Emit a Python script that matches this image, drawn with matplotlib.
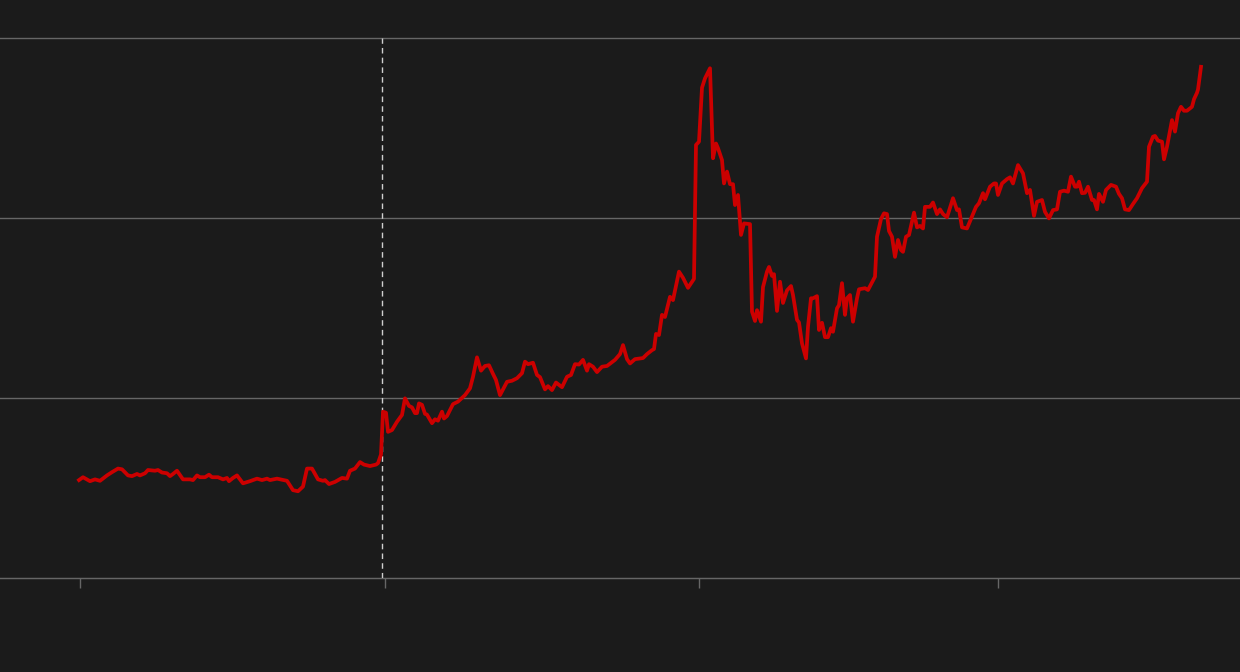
import matplotlib
matplotlib.use('Agg')
import matplotlib.pyplot as plt

# valeurs (x en unites arbitraires, y en unites de grille)
x = [7.9, 8.3, 9.0, 9.5, 10.0, 10.7, 11.2, 11.8, 12.2, 12.8,
     13.2, 13.7, 14.0, 14.5, 14.8, 15.5, 15.8, 16.2, 16.7, 17.0,
     17.3, 17.7, 18.3, 19.0, 19.3, 19.7, 20.0, 20.5, 20.9, 21.2,
     21.8, 22.3, 22.7, 22.9, 23.3, 23.7, 24.3, 25.0, 25.7, 26.2,
     26.7, 27.0, 27.7, 28.7, 29.3, 29.8, 30.3, 30.7, 31.2, 31.8,
     32.3, 32.5, 32.9, 33.5, 34.2, 34.7, 35.0, 35.5, 36.0, 36.4,
     37.0, 37.6, 37.8, 38.1, 38.3, 38.6, 38.8, 39.2, 39.7, 40.2,
     40.5, 40.9, 41.2, 41.5, 41.7, 41.9, 42.2, 42.5, 42.7, 43.2,
     43.5, 43.8, 44.2, 44.4, 44.7, 45.3, 45.8, 46.5, 47.0, 47.3,
     47.7, 48.1, 48.5, 48.9, 49.3, 49.6, 50.0, 50.7, 51.2, 51.7,
     52.2, 52.5, 52.8, 53.3, 53.7, 54.0, 54.5, 54.8, 55.2, 55.6,
     56.2, 56.7, 57.1, 57.5, 57.9, 58.3, 58.7, 58.9, 59.3, 59.7,
     60.2, 60.7, 61.5, 62.0, 62.3, 62.7, 63.0, 63.5, 64.3, 64.7,
     65.2, 65.4, 65.6, 65.9, 66.2, 66.5, 67.0, 67.3, 67.9, 68.3,
     68.8, 69.4, 69.6, 69.9, 70.2, 70.5, 71.0, 71.3, 71.6, 71.8,
     72.2, 72.4, 72.7, 73.0, 73.3, 73.5, 73.8, 74.1, 74.4, 75.0,
     75.2, 75.5, 75.7, 76.1, 76.3, 76.7, 76.9, 77.2, 77.4, 77.7,
     78.0, 78.3, 78.7, 79.1, 79.3, 79.7, 79.9, 80.2, 80.6, 80.8,
     81.1, 81.3, 81.7, 81.9, 82.2, 82.5, 82.8, 83.1, 83.3, 83.7,
     83.9, 84.2, 84.5, 84.7, 85.0, 85.3, 85.7, 85.9, 86.5, 86.8,
     87.5, 87.7, 88.1, 88.4, 88.7, 88.9, 89.2, 89.5, 89.8, 90.1,
     90.3, 90.6, 90.9, 91.4, 91.7, 92.0, 92.3, 92.5, 93.0, 93.3,
     93.7, 94.0, 94.3, 94.7, 95.3, 95.7, 95.9, 96.2, 96.7, 97.2,
     97.6, 97.9, 98.3, 98.5, 99.0, 99.4, 99.6, 99.8, 100.2, 100.7,
     101.0, 101.3, 101.8, 102.3, 102.7, 103.0, 103.4, 103.7, 104.2, 104.5,
     104.9, 105.3, 105.7, 106.0, 106.4, 106.8, 107.1, 107.5, 107.7, 107.9,
     108.2, 108.5, 108.8, 109.2, 109.4, 109.7, 109.9, 110.3, 110.6, 111.1,
     111.6, 111.9, 112.2, 112.5, 112.9, 113.3, 113.7, 114.2, 114.7, 114.9,
     115.3, 115.5, 115.8, 116.2, 116.4, 116.7, 117.2, 117.5, 117.8, 118.1,
     118.4, 118.7, 119.2, 119.4, 119.7, 119.8, 120.1]

y = [27.2, 28.0, 26.9, 27.4, 27.0, 28.5, 29.4, 30.4, 30.2, 28.5,
     28.3, 28.9, 28.5, 29.1, 30.0, 29.8, 30.0, 29.3, 29.1, 28.3,
     28.9, 29.8, 27.4, 27.4, 27.2, 28.5, 28.0, 28.0, 28.7, 28.0,
     28.0, 27.4, 27.8, 26.9, 27.8, 28.5, 26.3, 26.9, 27.6, 27.2,
     27.6, 27.2, 27.6, 27.0, 24.4, 24.1, 25.4, 30.4, 30.4, 27.4,
     27.0, 27.2, 26.1, 26.7, 27.8, 27.6, 29.8, 30.4, 32.2, 31.5,
     31.1, 31.5, 31.9, 34.3, 46.2, 45.9, 40.6, 41.1, 43.4, 45.3,
     49.9, 47.8, 47.4, 45.8, 45.8, 48.5, 48.1, 45.6, 45.4, 43.0,
     44.1, 43.7, 46.2, 44.3, 45.0, 48.3, 49.0, 50.8, 52.7, 55.9,
     61.3, 57.6, 58.9, 59.1, 56.7, 55.0, 50.8, 54.5, 54.8, 55.5,
     56.9, 60.1, 59.4, 59.8, 56.4, 55.8, 52.4, 53.3, 52.2, 54.3,
     53.0, 55.9, 56.4, 59.4, 59.3, 60.6, 57.6, 59.4, 58.7, 57.2,
     58.7, 58.9, 60.6, 62.2, 64.7, 60.8, 59.6, 60.8, 61.1, 62.2,
     63.3, 63.6, 67.8, 67.5, 73.1, 72.5, 78.1, 77.2, 85.1, 83.4,
     80.6, 83.1, 120.3, 121.2, 136.2, 138.8, 141.6, 116.6, 120.7, 119.4,
     116.1, 109.6, 112.9, 109.4, 109.4, 103.6, 106.4, 95.3, 98.5, 98.3,
     74.0, 71.4, 74.4, 71.2, 80.8, 85.1, 86.4, 83.9, 84.4, 74.2,
     82.3, 76.4, 79.9, 81.1, 78.6, 71.7, 71.0, 65.2, 61.0, 69.8,
     77.7, 77.7, 78.3, 68.9, 70.9, 66.9, 66.9, 69.4, 68.4, 74.9,
     75.8, 81.9, 73.1, 77.7, 78.6, 71.2, 77.7, 80.2, 80.5, 80.0,
     83.7, 94.8, 99.7, 101.3, 101.1, 96.4, 94.8, 89.2, 93.9, 91.1,
     90.6, 94.8, 95.3, 101.5, 97.4, 97.8, 97.1, 103.1, 103.1, 104.3,
     101.1, 102.4, 101.1, 100.2, 105.5, 102.2, 102.4, 97.4, 97.1, 100.4,
     103.1, 104.1, 106.9, 105.2, 108.7, 109.6, 109.6, 106.4, 109.6, 110.8,
     111.3, 109.6, 114.7, 112.4, 106.9, 107.8, 100.6, 104.5, 105.0, 101.7,
     99.9, 102.2, 102.4, 107.3, 107.6, 107.3, 111.5, 108.7, 108.7, 110.1,
     106.9, 107.0, 108.7, 105.0, 105.0, 102.4, 106.7, 104.5, 107.8, 109.2,
     108.7, 106.7, 105.5, 102.4, 102.2, 103.9, 105.5, 108.3, 110.1, 119.8,
     122.6, 122.8, 121.5, 121.2, 116.3, 119.8, 127.2, 124.0, 129.1, 130.9,
     129.8, 129.8, 130.9, 133.0, 134.8, 135.7, 142.0]

xticks = [8.0, 38.5, 69.9, 99.8]
yticks = [0, 50, 100, 150]
marker_x = 38.2

bg = '#1b1b1b'
fig = plt.figure(figsize=(12.4, 6.72), dpi=100, facecolor=bg)
ax = fig.add_axes([0, 0.1238, 1, 0.8357])
ax.set_facecolor(bg)

ax.plot(x, y, color='#cc0000', lw=2.7, solid_joinstyle='round', zorder=3)
ax.vlines(marker_x, 0, 150, colors='#cfcfcf', lw=1, linestyles=(0, (4, 3)), zorder=2)

ax.set_xlim(0, 124)
ax.set_ylim(-3, 153)
ax.set_yticks(yticks)
ax.set_xticks(xticks)
ax.grid(axis='y', color='#666666', lw=1)
ax.set_axisbelow(True)

for s in ['top', 'right', 'left']:
    ax.spines[s].set_visible(False)
ax.spines['bottom'].set_position(('data', 0))
ax.spines['bottom'].set_color('#666666')
ax.tick_params(axis='x', length=7.5, width=1, color='#666666', labelbottom=False)
ax.tick_params(axis='y', length=0, labelleft=False)

fig.savefig('out.png', dpi=100, facecolor=bg)
